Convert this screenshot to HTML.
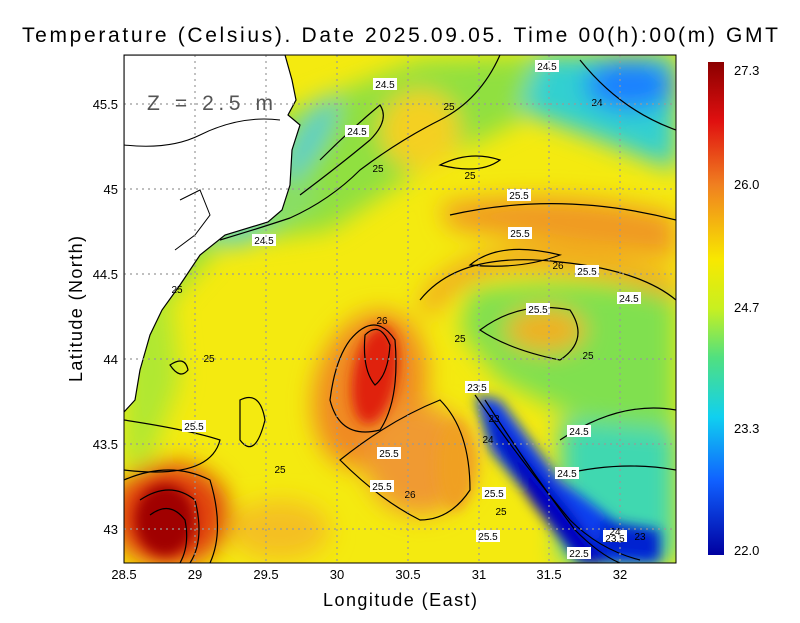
<!DOCTYPE html>
<html><head><meta charset="utf-8"><style>
body{margin:0;background:#fff;}
svg text{font-family:"Liberation Sans",sans-serif;}
</style></head><body>
<svg width="800" height="618" xmlns="http://www.w3.org/2000/svg">
<defs>
<clipPath id="pc"><rect x="124" y="55" width="552" height="508"/></clipPath>
<filter id="b1" x="-50%" y="-50%" width="200%" height="200%"><feGaussianBlur stdDeviation="12"/></filter>
<filter id="b2" x="-50%" y="-50%" width="200%" height="200%"><feGaussianBlur stdDeviation="6"/></filter>
<linearGradient id="cb" x1="0" y1="0" x2="0" y2="1">
<stop offset="0" stop-color="#8b0000"/><stop offset="0.12" stop-color="#e01010"/><stop offset="0.25" stop-color="#f08020"/>
<stop offset="0.4" stop-color="#f8e800"/><stop offset="0.5" stop-color="#c8f020"/><stop offset="0.6" stop-color="#50e080"/>
<stop offset="0.72" stop-color="#10d0f0"/><stop offset="0.85" stop-color="#1060ff"/><stop offset="1" stop-color="#0000a0"/>
</linearGradient>
</defs>
<text x="400" y="42" font-size="21" text-anchor="middle" fill="#000" textLength="756" lengthAdjust="spacing">Temperature (Celsius). Date 2025.09.05. Time 00(h):00(m) GMT</text>
<g clip-path="url(#pc)">
<rect x="124" y="55" width="552" height="508" fill="#f4ea10"/>
<g filter="url(#b1)">
<path d="M290,110 L420,60 L560,55 L520,120 L420,170 L330,230 L220,245 L170,300 L130,330 L124,200 Z" fill="#90e040"/>
<path d="M124,280 L170,290 L180,380 L150,460 L124,470Z" fill="#b0e830"/>
<path d="M540,55 L676,55 L676,170 L600,140 L520,110Z" fill="#30d0d0"/>
<ellipse cx="630" cy="85" rx="45" ry="25" fill="#1a80ff"/>
<path d="M440,205 Q560,185 676,215 L676,260 Q560,245 450,228Z" fill="#f09a20"/>
<path d="M420,300 Q460,240 560,250 Q640,260 676,280 L676,300 Q600,265 500,270 Q450,280 430,320Z" fill="#f0a020"/>
<path d="M470,290 Q600,270 676,300 L676,440 L580,420 L500,380 L460,330Z" fill="#80e050"/>
<ellipse cx="545" cy="330" rx="40" ry="22" fill="#f0b020"/>
<path d="M560,420 L676,430 L676,563 L560,563Z" fill="#40d8b0"/>
<ellipse cx="370" cy="390" rx="55" ry="80" fill="#f08a20" transform="rotate(15 370 390)"/>
<ellipse cx="420" cy="460" rx="55" ry="55" fill="#f09a30"/>
<ellipse cx="170" cy="515" rx="60" ry="52" fill="#e04010"/>
<ellipse cx="280" cy="530" rx="50" ry="30" fill="#f4c020"/>
<ellipse cx="420" cy="130" rx="40" ry="40" fill="#f4d020"/>
<ellipse cx="310" cy="140" rx="10" ry="50" fill="#40c8e0" transform="rotate(30 310 140)"/>
<path d="M200,235 L280,215 L330,180 L300,205 L240,245Z" fill="#30d0e0"/>
</g>
<g filter="url(#b2)">
<ellipse cx="375" cy="375" rx="22" ry="50" fill="#e02010" transform="rotate(10 375 375)"/>
<ellipse cx="165" cy="520" rx="30" ry="36" fill="#a00000"/>
<path d="M475,395 L500,400 L560,480 L640,540 L660,563 L590,563 L540,510 L490,450Z" fill="#1040f0"/>
<path d="M485,405 L520,450 L570,510 L610,563 L580,563 L530,500 L495,440Z" fill="#0000c0"/>
<path d="M600,520 L660,530 L660,560 L600,555Z" fill="#0020d0"/>
<ellipse cx="455" cy="465" rx="18" ry="45" fill="#f0a020"/>
</g>
<path d="M124,55 L285,55 L292,80 L296,100 L288,115 L300,125 L292,150 L290,185 L282,210 L268,222 L225,235 L200,255 L180,285 L162,310 L150,335 L140,370 L135,400 L124,412Z" fill="#fff" stroke="#000" stroke-width="1.2"/>
<path d="M124,145 Q170,150 200,135 Q240,115 280,120" fill="none" stroke="#000" stroke-width="1"/>
<path d="M180,200 L200,190 L210,215 L195,235 L175,250" fill="none" stroke="#000" stroke-width="1"/>
<g fill="none" stroke="#000" stroke-width="1.2">
<path d="M220,240 Q260,228 290,218 Q330,200 360,170 Q400,140 440,120 Q480,100 500,55"/>
<path d="M300,195 Q340,165 370,140 Q390,120 380,105 Q350,130 320,160"/>
<path d="M440,165 Q470,150 500,160 Q480,175 440,165Z"/>
<path d="M450,215 Q560,190 676,220"/>
<path d="M470,265 Q500,240 560,255 Q520,270 470,265Z"/>
<path d="M420,300 Q460,250 560,262 Q640,270 676,300"/>
<path d="M480,330 Q520,300 570,310 Q590,340 560,360 Q510,350 480,330Z"/>
<path d="M350,340 Q375,310 395,340 Q400,400 380,430 Q340,440 330,400 Q335,360 350,340Z"/>
<path d="M365,335 Q380,320 390,345 Q388,375 375,385 Q362,370 365,335Z"/>
<path d="M340,460 Q390,420 440,400 Q470,430 470,490 Q450,520 420,520 Q380,500 340,460Z"/>
<path d="M124,480 Q170,460 210,480 Q225,530 210,563"/>
<path d="M140,500 Q170,480 195,500 Q205,540 190,563"/>
<path d="M150,515 Q170,500 185,520 Q190,545 180,563"/>
<path d="M475,395 Q520,460 570,520 Q600,550 640,560"/>
<path d="M485,400 Q530,470 575,530 Q600,555 620,563"/>
<path d="M560,440 Q620,400 676,410"/>
<path d="M560,475 Q620,460 676,470"/>
<path d="M124,420 Q190,430 220,440 Q210,480 124,470"/>
<path d="M580,60 Q620,110 676,130"/>
<path d="M170,365 Q185,355 188,370 Q180,380 170,365Z"/>
<path d="M240,400 Q260,390 265,420 Q255,460 240,440Z"/>
</g>
<g font-size="10" text-anchor="middle">
<g fill="#fff"><rect x="373" y="78" width="24" height="12"/><rect x="535" y="60" width="24" height="12"/><rect x="345" y="125" width="24" height="12"/><rect x="252" y="234" width="24" height="12"/><rect x="507" y="189" width="24" height="12"/><rect x="508" y="227" width="24" height="12"/><rect x="575" y="265" width="24" height="12"/><rect x="526" y="303" width="24" height="12"/><rect x="617" y="292" width="24" height="12"/><rect x="465" y="381" width="24" height="12"/><rect x="182" y="420" width="24" height="12"/><rect x="377" y="447" width="24" height="12"/><rect x="370" y="480" width="24" height="12"/><rect x="482" y="487" width="24" height="12"/><rect x="476" y="530" width="24" height="12"/><rect x="567" y="425" width="24" height="12"/><rect x="555" y="467" width="24" height="12"/><rect x="603" y="530" width="24" height="12"/><rect x="567" y="547" width="24" height="12"/></g>
<text x="385" y="88">24.5</text><text x="547" y="70">24.5</text><text x="597" y="106">24</text><text x="357" y="135">24.5</text><text x="449" y="110">25</text><text x="378" y="172">25</text><text x="470" y="179">25</text>
<text x="519" y="199">25.5</text><text x="264" y="244">24.5</text><text x="520" y="237">25.5</text><text x="558" y="269">26</text><text x="587" y="275">25.5</text>
<text x="629" y="302">24.5</text><text x="538" y="313">25.5</text><text x="177" y="293">25</text><text x="382" y="324">26</text><text x="460" y="342">25</text><text x="588" y="359">25</text>
<text x="209" y="362">25</text><text x="477" y="391">23.5</text><text x="494" y="422">23</text><text x="488" y="443">24</text><text x="194" y="430">25.5</text><text x="579" y="435">24.5</text>
<text x="389" y="457">25.5</text><text x="280" y="473">25</text><text x="567" y="477">24.5</text><text x="382" y="490">25.5</text><text x="410" y="498">26</text><text x="494" y="497">25.5</text>
<text x="501" y="515">25</text><text x="488" y="540">25.5</text><text x="615" y="535">24</text><text x="615" y="542">23.5</text><text x="640" y="540">23</text><text x="579" y="557">22.5</text>
</g>
<g stroke="#999" stroke-width="1.2" stroke-dasharray="2,4">
<line x1="195" y1="55" x2="195" y2="563"/><line x1="266" y1="55" x2="266" y2="563"/><line x1="337" y1="55" x2="337" y2="563"/><line x1="408" y1="55" x2="408" y2="563"/><line x1="479" y1="55" x2="479" y2="563"/><line x1="549" y1="55" x2="549" y2="563"/><line x1="620" y1="55" x2="620" y2="563"/>
<line x1="124" y1="104" x2="676" y2="104"/><line x1="124" y1="189" x2="676" y2="189"/><line x1="124" y1="274" x2="676" y2="274"/><line x1="124" y1="359" x2="676" y2="359"/><line x1="124" y1="444" x2="676" y2="444"/><line x1="124" y1="529" x2="676" y2="529"/>
</g>
<text x="147" y="110" font-size="21" fill="#555" textLength="126" lengthAdjust="spacing">Z = 2.5 m</text>
</g>
<rect x="124" y="55" width="552" height="508" fill="none" stroke="#000" stroke-width="1"/>
<g font-size="13" fill="#000">
<g text-anchor="middle"><text x="124" y="579">28.5</text><text x="195" y="579">29</text><text x="266" y="579">29.5</text><text x="337" y="579">30</text><text x="408" y="579">30.5</text><text x="479" y="579">31</text><text x="549" y="579">31.5</text><text x="620" y="579">32</text></g>
<g text-anchor="end"><text x="118" y="109">45.5</text><text x="118" y="194">45</text><text x="118" y="279">44.5</text><text x="118" y="364">44</text><text x="118" y="449">43.5</text><text x="118" y="534">43</text></g>
</g>
<text x="400" y="606" font-size="18" text-anchor="middle" textLength="154" lengthAdjust="spacing">Longitude (East)</text>
<text x="82" y="309" font-size="18" text-anchor="middle" transform="rotate(-90 82 309)" textLength="146" lengthAdjust="spacing">Latitude (North)</text>
<rect x="708" y="62" width="16" height="493" fill="url(#cb)"/>
<g font-size="13"><text x="734" y="75">27.3</text><text x="734" y="189">26.0</text><text x="734" y="312">24.7</text><text x="734" y="433">23.3</text><text x="734" y="555">22.0</text></g>
</svg>
</body></html>
